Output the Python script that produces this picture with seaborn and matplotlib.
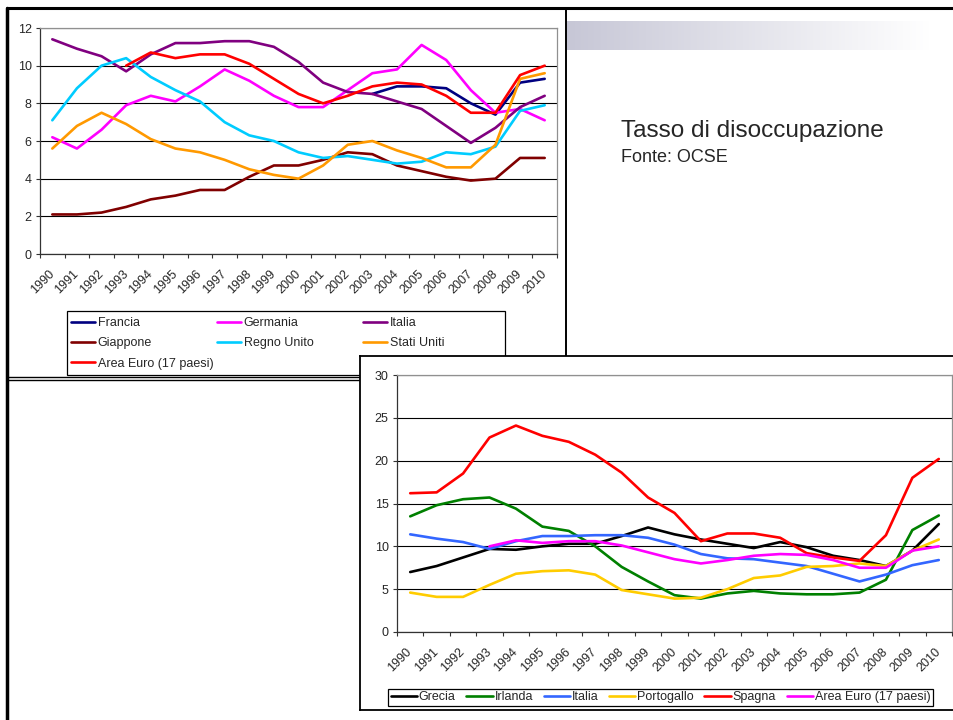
import numpy as np
import pandas as pd
import matplotlib
matplotlib.use("Agg")
import matplotlib.pyplot as plt
from matplotlib.lines import Line2D
from matplotlib.patches import Rectangle
import seaborn as sns

# Dati (tasso di disoccupazione, %)
years = list(range(1990, 2011))

# grafico in alto
francia = [None] * 13 + [8.5, 8.9, 8.9, 8.8, 8.0, 7.4, 9.1, 9.3]
germania = [6.2, 5.6, 6.6, 7.9, 8.4, 8.1, 8.9, 9.8, 9.2, 8.4, 7.8, 7.8, 8.7, 9.6, 9.8, 11.1, 10.3, 8.7, 7.5, 7.7, 7.1]
italia = [11.4, 10.9, 10.5, 9.7, 10.6, 11.2, 11.2, 11.3, 11.3, 11.0, 10.2, 9.1, 8.6, 8.5, 8.1, 7.7, 6.8, 5.9, 6.7, 7.8, 8.4]
giappone = [2.1, 2.1, 2.2, 2.5, 2.9, 3.1, 3.4, 3.4, 4.1, 4.7, 4.7, 5.0, 5.4, 5.3, 4.7, 4.4, 4.1, 3.9, 4.0, 5.1, 5.1]
regno_unito = [7.1, 8.8, 10.0, 10.4, 9.4, 8.7, 8.1, 7.0, 6.3, 6.0, 5.4, 5.1, 5.2, 5.0, 4.8, 4.9, 5.4, 5.3, 5.7, 7.6, 7.9]
stati_uniti = [5.6, 6.8, 7.5, 6.9, 6.1, 5.6, 5.4, 5.0, 4.5, 4.2, 4.0, 4.7, 5.8, 6.0, 5.5, 5.1, 4.6, 4.6, 5.8, 9.3, 9.6]
area_euro = [None] * 3 + [10.0, 10.7, 10.4, 10.6, 10.6, 10.1, 9.3, 8.5, 8.0, 8.4, 8.9, 9.1, 9.0, 8.4, 7.5, 7.5, 9.5, 10.0]

# grafico in basso
grecia = [7.0, 7.7, 8.7, 9.7, 9.6, 10.0, 10.3, 10.3, 11.2, 12.2, 11.4, 10.8, 10.3, 9.8, 10.5, 9.9, 8.9, 8.4, 7.7, 9.5, 12.6]
irlanda = [13.5, 14.8, 15.5, 15.7, 14.4, 12.3, 11.8, 10.0, 7.6, 5.9, 4.3, 3.9, 4.5, 4.8, 4.5, 4.4, 4.4, 4.6, 6.1, 11.9, 13.6]
portogallo = [4.6, 4.1, 4.1, 5.5, 6.8, 7.1, 7.2, 6.7, 4.9, 4.4, 3.9, 4.0, 5.0, 6.3, 6.6, 7.6, 7.7, 8.0, 7.7, 9.5, 10.8]
spagna = [16.2, 16.3, 18.5, 22.7, 24.1, 22.9, 22.2, 20.7, 18.6, 15.7, 13.9, 10.6, 11.5, 11.5, 11.0, 9.2, 8.7, 8.3, 11.3, 18.0, 20.2]

top_names = ["Francia", "Germania", "Italia", "Giappone", "Regno Unito", "Stati Uniti", "Area Euro (17 paesi)"]
top_values = [francia, germania, italia, giappone, regno_unito, stati_uniti, area_euro]
top_colors = ["#000080", "#FF00FF", "#800080", "#800000", "#00CCFF", "#FF9900", "#FF0000"]

bot_names = ["Grecia", "Irlanda", "Italia", "Portogallo", "Spagna", "Area Euro (17 paesi)"]
bot_values = [grecia, irlanda, italia, portogallo, spagna, area_euro]
bot_colors = ["#000000", "#008000", "#3366FF", "#FFCC00", "#FF0000", "#FF00FF"]

sns.set_theme(style="white")
plt.rcParams["font.family"] = ["Liberation Sans", "DejaVu Sans"]

W, H = 954, 720
FS = 9


def rect(x0, y0, x1, y1):
    # pixel box -> figure fraction
    return [x0 / W, 1 - y1 / H, (x1 - x0) / W, (y1 - y0) / H]


def draw_chart(ax, names, values, colors, ymax, ystep):
    df = pd.DataFrame({"anno": years})
    for n, v in zip(names, values):
        df[n] = pd.Series(v, dtype="float")
    long = df.melt(id_vars="anno", var_name="serie", value_name="tasso").dropna()
    long["pos"] = long["anno"] - years[0]
    sns.lineplot(data=long, x="pos", y="tasso", hue="serie", hue_order=names,
                 palette=dict(zip(names, colors)), linewidth=1.9,
                 estimator=None, legend=False, ax=ax)
    ax.set_xlim(-0.5, len(years) - 0.5)
    ax.set_ylim(0, ymax)
    ax.set_yticks(np.arange(0, ymax + 1, ystep))
    ax.yaxis.grid(True, color="black", linewidth=0.8)
    ax.set_axisbelow(True)
    ax.set_xticks(np.arange(-0.5, len(years), 1))
    ax.set_xticklabels([])
    ax.set_xticks(range(len(years)), minor=True)
    ax.set_xticklabels(years, minor=True, rotation=45, ha="right", va="center",
                       rotation_mode="anchor", fontsize=FS)
    ax.tick_params(axis="x", which="major", bottom=True, length=3, width=0.8,
                   direction="out", color="#333333")
    ax.tick_params(axis="x", which="minor", bottom=True, length=0, pad=13)
    ax.tick_params(axis="y", left=True, length=3, width=0.8, direction="out",
                   color="#333333", labelsize=FS, pad=3)
    ax.set_xlabel("")
    ax.set_ylabel("")
    for s in ["left", "bottom"]:
        ax.spines[s].set_color("#333333")
        ax.spines[s].set_linewidth(0.9)
    for s in ["top", "right"]:
        ax.spines[s].set_color("#909090")
        ax.spines[s].set_linewidth(0.9)
    ax.set_facecolor("white")


fig = plt.figure(figsize=(W / 100, H / 100), dpi=100)

# sfondo della slide: cornici e barra sfumata
bg = fig.add_axes([0, 0, 1, 1])
bg.set_xlim(0, W)
bg.set_ylim(H, 0)
bg.axis("off")
grad = np.linspace(0, 1, 256)
left_col = np.array([0.78, 0.78, 0.84])
img = left_col[None, None, :] * (1 - grad[None, :, None]) + grad[None, :, None]
bg.imshow(img, extent=(567, 930, 50, 21), aspect="auto", zorder=1)
bg.plot([7, W], [8, 8], color="black", lw=2.2, zorder=3)
bg.plot([7.5, 7.5], [8, H], color="black", lw=2.5, zorder=3)
bg.plot([566, 566], [8, 378], color="black", lw=1.4, zorder=3)
bg.plot([7, 360], [377, 377], color="black", lw=1.0, zorder=3)
bg.plot([7, 360], [380, 380], color="black", lw=1.0, zorder=3)
bg.add_patch(Rectangle((67, 311), 438, 64, fill=False, edgecolor="black", lw=0.9, zorder=3))
bg.set_xlim(0, W)
bg.set_ylim(H, 0)

# grafico in alto
ax1 = fig.add_axes(rect(40, 28, 557, 254))
draw_chart(ax1, top_names, top_values, top_colors, 12, 2)

cols = [[0, 3, 6], [1, 4], [2, 5]]
col_x = [71, 217, 363]
for idx, x in zip(cols, col_x):
    handles = [Line2D([], [], color=top_colors[i], lw=1.9) for i in idx]
    fig.legend(handles, [top_names[i] for i in idx], loc="upper left",
               bbox_to_anchor=(x / W, 1 - 317 / H), frameon=False, fontsize=FS,
               borderpad=0, borderaxespad=0, handlelength=1.9, handletextpad=0.25,
               labelspacing=0.66)

fig.text(621 / W, 1 - 137 / H, "Tasso di disoccupazione", fontsize=17.5, va="baseline")
fig.text(621 / W, 1 - 162 / H, "Fonte: OCSE", fontsize=13, va="baseline")

# riquadro del secondo grafico (copre l'angolo del primo)
cover = fig.add_axes(rect(360, 356, W + 5, 710))
cover.set_facecolor("white")
cover.set_xticks([])
cover.set_yticks([])
for s in ["left", "top", "bottom"]:
    cover.spines[s].set_color("black")
    cover.spines[s].set_linewidth(1.3)
cover.spines["right"].set_visible(False)

# grafico in basso
ax2 = fig.add_axes(rect(397, 375, 952, 632))
draw_chart(ax2, bot_names, bot_values, bot_colors, 30, 5)

handles = [Line2D([], [], color=c, lw=1.9) for c in bot_colors]
leg = fig.legend(handles, bot_names, loc="center", ncol=6,
                 bbox_to_anchor=(660.5 / W, 1 - 697 / H), fontsize=FS,
                 frameon=True, fancybox=False, framealpha=1, edgecolor="black",
                 borderpad=0.2, borderaxespad=0, handlelength=2.1,
                 handletextpad=0.15, columnspacing=0.85)
leg.get_frame().set_linewidth(0.9)

fig.savefig("out.png", dpi=100)
